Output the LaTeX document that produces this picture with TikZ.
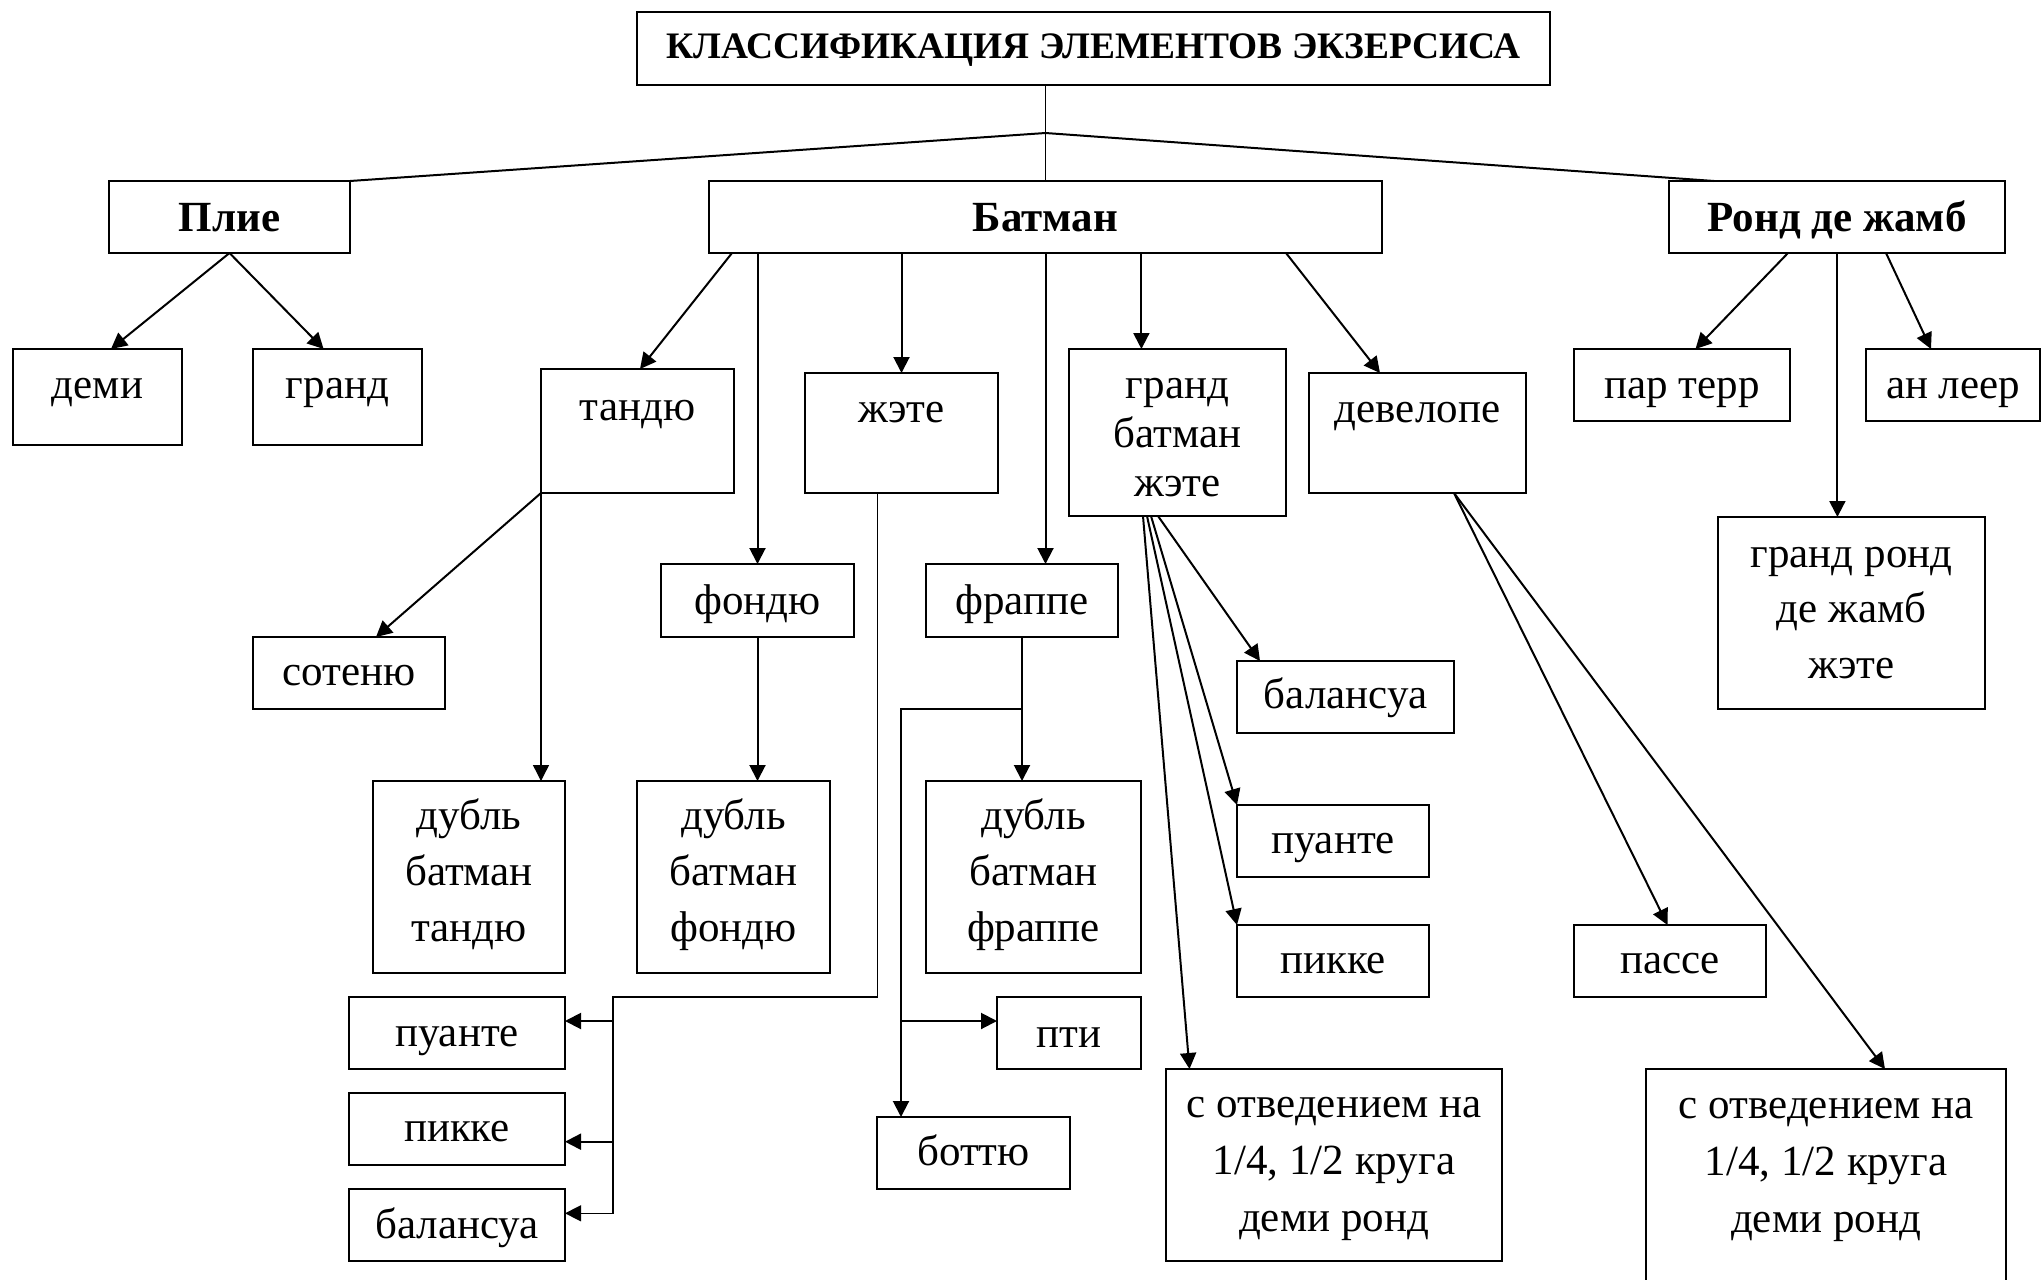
\documentclass[tikz,border=0pt]{standalone}
\usepackage{fontspec}
\setmainfont{Liberation Serif}
\usetikzlibrary{arrows.meta,calc}
\newdimen\bxw
\newdimen\bxh
\tikzset{
  box/.style={draw, line width=1pt, inner sep=0pt, outer sep=0pt, rectangle},
  lbl/.style={inner sep=0pt, outer sep=0pt, align=flush center, font=\fontsize{21.5pt}{28pt}\selectfont},
  bold/.style={font=\fontsize{21.5pt}{28pt}\selectfont\bfseries},
  titlefont/.style={font=\fontsize{18.7pt}{22pt}\selectfont\bfseries},
  conn/.style={line width=1pt},
  thinconn/.style={line width=0.7pt},
  arr/.style={conn, -{Triangle[length=8pt,width=8pt]}},
  thinarr/.style={thinconn, -{Triangle[length=8pt,width=8pt]}},
}
\newcommand\bx[8][]{%
  \pgfmathsetlength\bxw{(#5-#3)*0.5pt}%
  \pgfmathsetlength\bxh{(#6-#4)*0.5pt}%
  \node[box, minimum width=\bxw, minimum height=\bxh] (#2) at ({(#3+#5)/2},{(#4+#6)/2}) {};
  \node[lbl, text width=\bxw, anchor=base, #1] (#2-t) at ({(#3+#5)/2},#7) {#8};
}
\begin{document}
\begin{tikzpicture}[x=0.5pt,y=-0.5pt]
\useasboundingbox (0,0) rectangle (2042,1280);
\fill[white] (0,0) rectangle (2042,1280);

\bx[titlefont]{title}{637}{12}{1550}{85}{58.5}{КЛАССИФИКАЦИЯ ЭЛЕМЕНТОВ ЭКЗЕРСИСА}
\bx[bold]{plie}{109}{181}{350}{253}{231}{Плие}
\bx[bold]{batman}{709}{181}{1382}{253}{231}{Батман}
\bx[bold]{rond}{1669}{181}{2005}{253}{231}{Ронд де жамб}
\bx{demi}{13}{349}{182}{445}{398}{деми}
\bx{grand}{253}{349}{422}{445}{398}{гранд}
\bx{tandu}{541}{369}{734}{493}{420}{тандю}
\bx{zhete}{805}{373}{998}{493}{422}{жэте}
\bx[font=\fontsize{21.5pt}{24.5pt}\selectfont]{gbz}{1069}{349}{1286}{516}{398}{гранд\\батман\\жэте}
\bx{devel}{1309}{373}{1526}{493}{422}{девелопе}
\bx{parterr}{1574}{349}{1790}{421}{398}{пар терр}
\bx{anleer}{1866}{349}{2040}{421}{398}{ан леер}
\bx[font=\fontsize{21.5pt}{27.9pt}\selectfont]{grond}{1718}{517}{1985}{709}{567}{гранд ронд\\де жамб\\жэте}
\bx{fondu}{661}{564}{854}{637}{614}{фондю}
\bx{frappe}{926}{564}{1118}{637}{614}{фраппе}
\bx{soten}{253}{637}{445}{709}{685}{сотеню}
\bx{dbt}{373}{781}{565}{973}{829}{дубль\\батман\\тандю}
\bx{dbf}{637}{781}{830}{973}{829}{дубль\\батман\\фондю}
\bx{dbfr}{926}{781}{1141}{973}{829}{дубль\\батман\\фраппе}
\bx{puanteL}{349}{997}{565}{1069}{1046}{пуанте}
\bx{pikkeL}{349}{1093}{565}{1165}{1141}{пикке}
\bx{balansL}{349}{1189}{565}{1261}{1238}{балансуа}
\bx{pti}{997}{997}{1141}{1069}{1047}{пти}
\bx{bottu}{877}{1117}{1070}{1189}{1165}{боттю}
\bx{balansR}{1237}{661}{1454}{733}{708}{балансуа}
\bx{puanteR}{1237}{805}{1429}{877}{853}{пуанте}
\bx{pikkeR}{1237}{925}{1429}{997}{973}{пикке}
\bx{passe}{1574}{925}{1766}{997}{973}{пассе}
\bx[font=\fontsize{21.5pt}{28.7pt}\selectfont]{sotvL}{1166}{1069}{1502}{1261}{1117}{с отведением на\\1/4, 1/2 круга\\деми ронд}
\bx[font=\fontsize{21.5pt}{28.7pt}\selectfont]{sotvR}{1646}{1069}{2006}{1300}{1118}{с отведением на\\1/4, 1/2 круга\\деми ронд}

% top level
\draw[thinconn] (batman.north |- title.south) -- (batman.north);
\coordinate (J) at ($(batman.north)+(0,-48)$);
\draw[conn] (J) -- (plie.north east);
\draw[conn] (J) -- ($(rond.north west)+(45,0)$);

% Plie
\draw[arr] (plie.south) -- ($(demi.north west)+(98,0)$);
\draw[arr] (plie.south) -- ($(grand.north west)+(70.6,0)$);

% Batman
\draw[arr] ($(batman.south west)+(23,0)$) -- ($(tandu.north west)+(99,0)$);
\draw[arr] (fondu.north |- batman.south) -- (fondu.north);
\draw[arr] (zhete.north |- batman.south) -- (zhete.north);
\draw[arr] (batman.south) -- (batman.south |- frappe.north);
\coordinate (g1) at ($(gbz.north west)+(72.4,0)$);
\draw[arr] (g1 |- batman.south) -- (g1);
\draw[arr] ($(batman.south east)+(-96,0)$) -- ($(devel.north west)+(71,0)$);

% Rond de jambe
\draw[arr] ($(rond.south west)+(119,0)$) -- ($(parterr.north west)+(121.5,0)$);
\coordinate (r2) at ($(rond.south west)+(168.4,0)$);
\draw[arr] (r2) -- (r2 |- grond.north);
\draw[arr] ($(rond.south west)+(217,0)$) -- ($(anleer.north west)+(65,0)$);

% tandu
\draw[arr] (tandu.south west) -- ($(soten.north west)+(123,0)$);
\draw[thinarr] (tandu.south west) -- (tandu.south west |- dbt.north);

% fondu
\draw[arr] (fondu.south) -- (fondu.south |- dbf.north);

% frappe
\draw[arr] (frappe.south) -- (frappe.south |- dbfr.north);
\coordinate (fb) at ($(frappe.south)+(0,72)$);
\coordinate (fl) at ($(bottu.north west)+(24,0)$);
\draw[arr] (fb) -| (fl);
\coordinate (pa) at ($(pti.north west)+(0,24)$);
\draw[arr] (pa -| fl) -- (pa);

% zhete
\coordinate (z0) at ($(zhete.south west)+(72.6,0)$);
\coordinate (zc) at ($(puanteL.north east)+(48,0)$);
\coordinate (zb) at ($(balansL.north east)+(48,24.3)$);
\draw[thinarr] (z0) |- (zc) -- (zb) -- (zb -| balansL.east);
\coordinate (p1) at ($(puanteL.north east)+(0,24)$);
\draw[arr] (p1 -| zc) -- (p1);
\coordinate (p2) at ($(pikkeL.north east)+(0,48.7)$);
\draw[arr] (p2 -| zc) -- (p2);

% grand batman zhete
\draw[arr] ($(gbz.south west)+(74,0)$) -- ($(sotvL.north west)+(23.5,0)$);
\draw[arr] ($(gbz.south west)+(78,0)$) -- (pikkeR.north west);
\draw[arr] ($(gbz.south west)+(82,0)$) -- (puanteR.north west);
\draw[arr] ($(gbz.south west)+(89,0)$) -- ($(balansR.north west)+(23,0)$);

% developpe
\draw[arr] ($(devel.south west)+(145,0)$) -- ($(passe.north west)+(93.5,0)$);
\draw[arr] ($(devel.south west)+(145,0)$) -- ($(sotvR.north west)+(239,0)$);
\end{tikzpicture}
\end{document}
